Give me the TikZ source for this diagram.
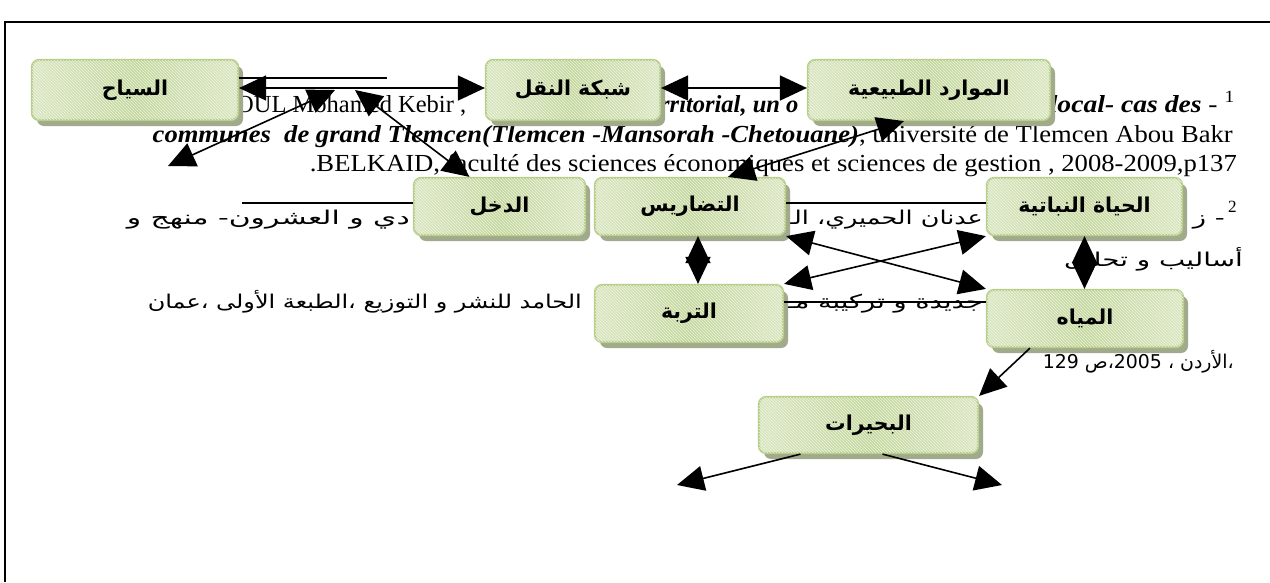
\documentclass[tikz,border=0pt]{standalone}
\usepackage{fontspec}
\setmainfont{Liberation Serif}
\newfontfamily\arabicfont[Script=Arabic]{DejaVu Sans}
\TeXXeTstate=1
\usetikzlibrary{arrows.meta,shadows,patterns,calc}
\definecolor{gLight}{HTML}{DAE6C1}
\definecolor{gMid}{HTML}{C3D69B}
\definecolor{gBorder}{HTML}{B8CE8B}
\definecolor{gShadow}{HTML}{A2AA8C}
\definecolor{gHatch}{HTML}{EEF3E2}
\newcommand{\fitw}[2]{\resizebox{#1pt}{\height}{#2}}
\begin{document}
\begin{tikzpicture}[x=1pt,y=-1pt,
  box/.style={rounded corners=7pt, draw=gBorder, line width=2.2pt,
    left color=gLight, right color=gLight, middle color=gMid,
    drop shadow={shadow xshift=5pt,shadow yshift=-6pt,fill=gShadow,opacity=1},
    postaction={pattern=north west lines, pattern color=gHatch},
    inner sep=0pt, font=\arabicfont\bfseries\fontsize{20.5}{24}\selectfont},
  lat/.style={inner sep=0pt, font=\fontsize{24.5}{28}\selectfont},
  ara/.style={inner sep=0pt, font=\arabicfont\fontsize{19}{24}\selectfont},
  ln/.style={line width=1.6pt},
  >={Triangle[length=27pt,width=25pt]},
  dbl/.style={ln, <->},
  one/.style={ln, ->}]
\useasboundingbox (0,0) rectangle (1270,582);
% frame
\draw[line width=1.5pt] (5,582) -- (5,22) -- (1270,22);
% background footnote text
\node[lat, anchor=base west] (t1a) at (236,112) {OUL Mohamed Kebir ,};
\node[lat, anchor=base west] (t1b) at (660,112) {\textbf{\textit{rritorial, un o}}};
\node[lat, anchor=base east] (t1c) at (1235,112) {\fitw{185}{\textbf{\textit{local- cas des}} - \textsuperscript{1}}};
\node[lat, anchor=base east] (t2) at (1233,142) {\fitw{1080}{\textbf{\textit{communes\ \ de grand Tlemcen(Tlemcen -Mansorah -Chetouane)}}, université de Tlemcen Abou Bakr}};
\node[lat, anchor=base east] (t3) at (1237,171) {\fitw{927}{.BELKAID, faculté des sciences économiques et sciences de gestion , 2008-2009,p137}};
\node[lat, anchor=base west] (n2) at (1228,222) {\textsuperscript{2}};
\node[ara, anchor=base east] (a4a) at (1225,224) {\resizebox{32pt}{\height}{\beginR - ز\endR}};
\node[ara, anchor=base east] (a4b) at (983,224) {\resizebox{196pt}{\height}{\beginR عدنان الحميري، الـ\endR}};
\node[ara, anchor=base east] (a4c) at (410,224) {\resizebox{283pt}{\height}{\beginR دي و العشرون- منهج و\endR}};
\node[ara, anchor=base east] (a5) at (1243,266) {\resizebox{179pt}{\height}{\beginR أساليب و تحليل\endR}};
\node[ara, anchor=base east] (a6a) at (983,308) {\resizebox{196pt}{\height}{\beginR جديدة و تركيبة مـ\endR}};
\node[ara, anchor=base east] (a6b) at (582,308) {\resizebox{434pt}{\height}{\beginR الحامد للنشر و التوزيع ،الطبعة الأولى ،عمان\endR}};
\node[ara, anchor=base east] (a7) at (1234,368) {\resizebox{191pt}{\height}{\beginR ،الأردن ، \beginL2005\endL،ص \beginL129\endL\endR}};
% boxes
\node[box, minimum width=206pt, minimum height=60pt] (s) at (135,90) {\beginR السياح\endR};
\node[box, minimum width=174pt, minimum height=60pt] (n) at (573,90) {\beginR شبكة النقل\endR};
\node[box, minimum width=242pt, minimum height=60pt] (m) at (929,90) {\beginR الموارد الطبيعية\endR};
\node[box, minimum width=171pt, minimum height=57pt] (d) at (499.5,206.5) {\beginR الدخل\endR};
\node[box, minimum width=190pt, minimum height=57pt] (t) at (690,206.5) {\beginR التضاريس\endR};
\node[box, minimum width=195pt, minimum height=57pt] (h) at (1084.5,206.5) {\beginR الحياة النباتية\endR};
\node[box, minimum width=188pt, minimum height=57pt] (r) at (689,313.5) {\beginR التربة\endR};
\node[box, minimum width=196pt, minimum height=57pt] (w) at (1085,318.5) {\beginR المياه\endR};
\node[box, minimum width=219pt, minimum height=56pt] (b) at (868.5,425) {\beginR البحيرات\endR};
% free ends
\coordinate (st) at (387,78);
\coordinate (bB) at (168,166);
\coordinate (bT) at (335,90);
\coordinate (cT) at (355,90);
\coordinate (ol) at (242,203);
\coordinate (kl) at (677,485);
\coordinate (kr) at (1002,485);
% connectors
\draw[ln] ($(s.east)+(0,-12)$) -- (st);
\draw[dbl] ($(s.east)+(0,-2)$) -- ($(n.west)+(0,-2)$);
\draw[dbl] ($(n.east)+(0,-2)$) -- ($(m.west)+(0,-2)$);
\draw[dbl] (bB) -- (bT);
\draw[dbl] (cT) -- ($(d.north)+(-30,0)$);
\draw[dbl] ($(m.south)+(-25,0)$) -- ($(t.north)+(38,0)$);
\draw[ln] (ol) -- ($(d.west)+(0,-3.5)$);
\draw[ln] ($(t.east)+(0,-3.5)$) -- ($(h.west)+(0,-3.5)$);
\draw[dbl] ($(t.south)+(8,0)$) -- ($(t.south |- r.north)+(8,0)$);
\draw[dbl] (h.south) -- (h.south |- w.north);
\draw[dbl] (t.south east) -- (w.north west);
\draw[dbl] (r.north east) -- (h.south west);
\draw[ln] ($(r.east)+(0,-11.5)$) -- ($(w.west)+(0,-16.5)$);
\draw[one] ($(w.south)+(-55,0)$) -- (b.north east);
\draw[one] ($(b.south)+(-68,0)$) -- (kl);
\draw[one] ($(b.south)+(14,0)$) -- (kr);
\end{tikzpicture}
\end{document}
